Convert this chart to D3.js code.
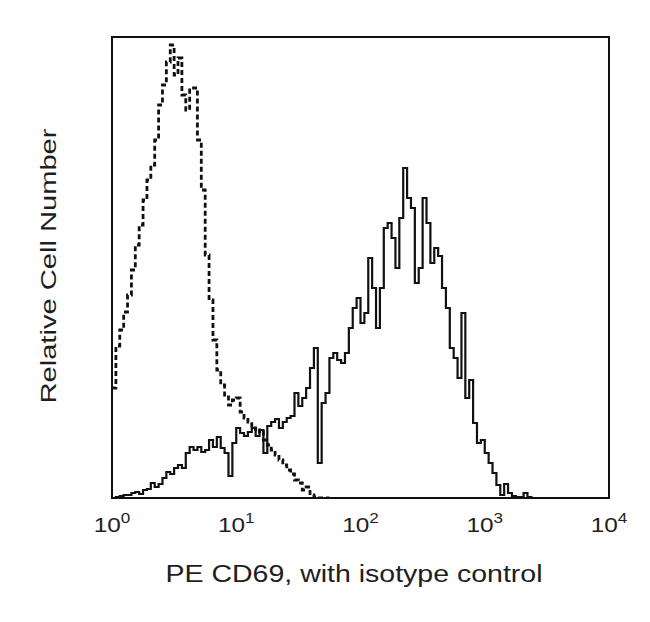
<!DOCTYPE html>
<html>
<head>
<meta charset="utf-8">
<script src="https://cdn.jsdelivr.net/npm/d3@7"></script>
<style>
  html, body { margin: 0; padding: 0; background: #fff; }
  svg { display: block; }
  text { font-family: "Liberation Sans", Arial, Helvetica, sans-serif; fill: #1e1e1e; }
</style>
</head>
<body>
<svg id="chart" width="650" height="622"></svg>
<script>
// Channels: 32 per decade on a log scale, channel i starts at 10^(i/32)
const channelsPerDecade = 32;

// Isotype control (dashed) relative counts, channels 0..55
const isotypeCounts = [
  110, 152, 168, 186, 203, 228, 253, 273, 298, 318,
  333, 358, 393, 413, 436, 453, 423, 440, 403, 388,
  408, 410, 358, 308, 243, 198, 158, 128, 113, 103,
  93, 98, 100, 86, 80, 76, 70, 66, 68, 58,
  53, 48, 43, 38, 33, 28, 24, 18, 15, 8,
  11, 3, 1, 0, 0, 0
];

// PE CD69 (solid) relative counts, channels 0..108
const cd69Counts = [
  0, 1, 2, 3, 3, 5, 6, 4, 8, 9,
  15, 11, 14, 20, 26, 24, 30, 33, 30, 45,
  51, 48, 51, 46, 48, 58, 51, 61, 50, 45,
  22, 55, 70, 65, 62, 66, 70, 62, 68, 45,
  72, 76, 79, 70, 76, 80, 82, 105, 92, 100,
  110, 130, 150, 35, 95, 105, 140, 145, 138, 135,
  145, 170, 190, 200, 175, 185, 240, 210, 170, 210,
  270, 275, 260, 230, 280, 330, 300, 290, 215, 230,
  300, 275, 235, 250, 242, 210, 190, 150, 140, 120,
  185, 100, 118, 75, 55, 58, 45, 35, 25, 13,
  3, 14, 5, 2, 1, 1, 5, 1, 0
];

const xTicks = [1, 10, 100, 1000, 10000];
const xTickExponents = ["0", "1", "2", "3", "4"];
const xTitle = "PE CD69, with isotype control";
const yTitle = "Relative Cell Number";

const svg = d3.select("#chart");
const plot = { left: 112, right: 609, top: 37, bottom: 498 };

const x = d3.scaleLog().domain([1, 10000]).range([plot.left, plot.right]);
const y = d3.scaleLinear().domain([0, 461]).range([plot.bottom, plot.top]);

function stepPoints(counts) {
  const pts = counts.map((c, i) => [Math.pow(10, i / channelsPerDecade), c]);
  const n = counts.length;
  pts.push([Math.pow(10, n / channelsPerDecade), counts[n - 1]]);
  return pts;
}

const line = d3.line()
  .x(d => x(d[0]))
  .y(d => y(d[1]))
  .curve(d3.curveStepAfter);

svg.append("clipPath").attr("id", "clip")
  .append("rect")
  .attr("x", plot.left).attr("y", plot.top)
  .attr("width", plot.right - plot.left).attr("height", plot.bottom - plot.top);

const g = svg.append("g").attr("clip-path", "url(#clip)");

g.append("path")
  .attr("d", line(stepPoints(isotypeCounts)))
  .attr("fill", "none")
  .attr("stroke", "#111")
  .attr("stroke-width", 2.8)
  .attr("stroke-dasharray", "5,3");

g.append("path")
  .attr("d", line(stepPoints(cd69Counts)))
  .attr("fill", "none")
  .attr("stroke", "#111")
  .attr("stroke-width", 2.2);

// frame
svg.append("rect")
  .attr("x", plot.left).attr("y", plot.top)
  .attr("width", plot.right - plot.left).attr("height", plot.bottom - plot.top)
  .attr("fill", "none").attr("stroke", "#111").attr("stroke-width", 2);

// x tick labels (no tick marks)
const labels = svg.append("g");
xTicks.forEach((t, i) => {
  const lg = labels.append("g")
    .attr("transform", `translate(${x(t)},532) scale(1.22,1)`);
  const txt = lg.append("text").attr("text-anchor", "middle").attr("font-size", 20);
  txt.append("tspan").text("10");
  txt.append("tspan").attr("font-size", 14).attr("dy", -9).text(xTickExponents[i]);
});

// axis titles
svg.append("text")
  .attr("x", 354).attr("y", 582)
  .attr("text-anchor", "middle")
  .attr("font-size", 23)
  .attr("textLength", 377)
  .attr("lengthAdjust", "spacingAndGlyphs")
  .text(xTitle);

svg.append("text")
  .attr("transform", "translate(56,266) rotate(-90)")
  .attr("text-anchor", "middle")
  .attr("font-size", 22)
  .attr("textLength", 275)
  .attr("lengthAdjust", "spacingAndGlyphs")
  .text(yTitle);
</script>
</body>
</html>
